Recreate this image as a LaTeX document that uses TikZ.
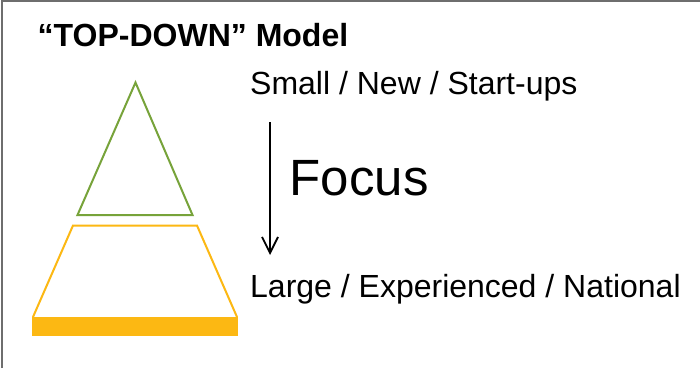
\documentclass[tikz,border=0pt]{standalone}
\usepackage{fontspec}
\setmainfont{Liberation Sans}
\usetikzlibrary{arrows.meta}
\definecolor{tgreen}{HTML}{77A33A}
\definecolor{tyellow}{HTML}{FCB813}
\definecolor{frame}{HTML}{6E6E6E}
\tikzset{
  lbl/.style={anchor=base west, inner sep=0pt, font=\fontsize{32}{38}\selectfont},
  ttl/.style={anchor=base west, inner sep=0pt, font=\fontsize{32}{38}\selectfont\bfseries},
  bigl/.style={anchor=base west, inner sep=0pt, font=\fontsize{51}{60}\selectfont},
  tri/.style={draw=tgreen, line width=2pt, line join=miter},
  trap/.style={draw=tyellow, line width=2pt, line join=miter},
  bar/.style={fill=tyellow},
  frm/.style={draw=frame, line width=2pt},
  focusarrow/.style={draw=black, line width=1.8pt, -{Straight Barb[length=16pt,width=16pt,line width=1.8pt]}}
}
\begin{document}
\begin{tikzpicture}[x=1pt,y=-1pt]
\useasboundingbox (0,0) rectangle (700,368);
\fill[white] (0,0) rectangle (700,368);
% frame
\draw[frm] (2,368) -- (2,1) -- (700,1);
% title and labels
\node[ttl] (title) at (37.5,46) {“TOP-DOWN” Model};
\node[lbl] (small) at (250,94.5) {Small / New / Start-ups};
\node[lbl] (large) at (250,297) {Large / Experienced / National};
\node[bigl] (focus) at (289.5,195) {Focus};
% arrow
\coordinate (astart) at (270,122);
\coordinate (aend) at (270,255);
\draw[focusarrow] (astart) -- (aend);
% triangle
\draw[tri] (135.5,82.5) -- (192.5,215) -- (77.5,215) -- cycle;
% trapezoid
\draw[trap] (33,317) -- (73,225.5) -- (197,225.5) -- (237,317);
\fill[bar] (32,316.5) rectangle (237.5,336);
\end{tikzpicture}
\end{document}
